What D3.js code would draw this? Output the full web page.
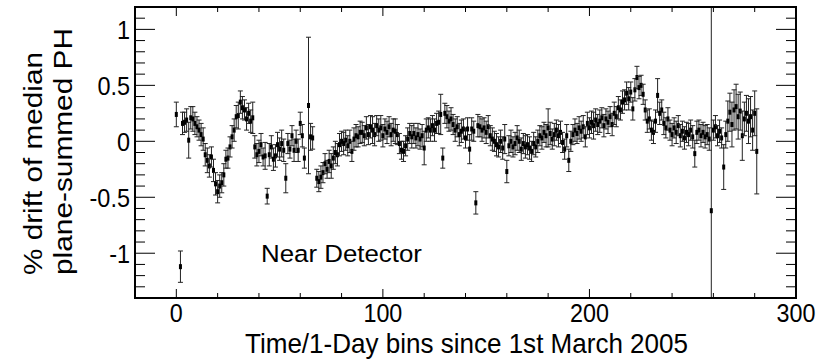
<!DOCTYPE html>
<html>
<head>
<meta charset="utf-8">
<script src="https://cdn.jsdelivr.net/npm/d3@7"></script>
<style>
html,body{margin:0;padding:0;background:#fff;}
svg{display:block;}
text{font-family:"Liberation Sans",Arial,Helvetica,sans-serif;fill:#000;}
</style>
</head>
<body>
<svg id="chart" width="829" height="361"></svg>
<script>
// ---- data (day index, % drift, error) ----
const days = [
0,2,3,4,5,6,7,8,9,10,11,12,13,14,15,16,17,18,19,20,21,22,23,24,25,26,27,28,29,30,
31,32,33,34,35,36,37,38,39,40,41,42,43,44,45,46,47,48,49,50,51,52,53,54,55,56,57,58,59,60,
61,62,64,65,66,68,69,70,71,72,73,74,75,76,77,78,79,80,81,82,83,84,85,86,87,88,89,90,
91,92,93,94,95,96,97,98,99,100,101,102,103,104,105,106,107,108,109,110,111,112,113,114,115,116,117,118,119,120,
121,122,123,124,125,126,127,128,129,130,131,132,133,134,135,136,137,138,139,140,141,142,143,144,145,146,147,148,149,150,
151,152,153,154,155,156,157,158,159,160,161,162,163,164,165,166,167,168,169,170,171,172,173,174,175,176,177,178,179,180,
181,182,183,184,185,186,187,188,189,190,191,192,193,194,195,196,197,198,199,200,201,202,203,204,205,206,207,208,209,210,
211,212,213,214,215,216,217,218,219,220,221,222,223,224,225,226,227,228,229,230,231,232,233,234,235,236,237,238,239,240,
241,242,243,244,245,246,247,248,249,250,251,252,253,254,255,256,257,258,259,260,261,262,263,264,265,266,267,268,269,270,
271,272,273,274,275,276,277,278,279,280,281
];
const drift = [
0.24,-1.12,0.16,0.17,0.19,0.01,0.21,0.20,0.16,0.13,0.10,0.06,0.02,-0.12,-0.17,-0.22,-0.14,-0.26,-0.38,-0.45,-0.40,-0.37,-0.30,-0.16,-0.15,-0.05,0.04,0.10,0.22,0.23,
0.35,0.30,0.28,0.20,0.25,0.18,0.21,-0.05,-0.12,-0.09,-0.03,-0.14,-0.13,-0.49,-0.12,-0.05,-0.16,-0.13,-0.03,-0.07,-0.02,-0.08,-0.33,-0.02,-0.07,0.05,-0.08,0.00,-0.08,0.16,
0.05,-0.15,0.32,0.04,0.03,-0.33,-0.36,-0.32,-0.28,-0.20,-0.25,-0.18,-0.22,-0.15,-0.10,-0.12,-0.03,0.00,-0.02,0.01,-0.04,0.00,-0.09,0.02,0.05,0.04,0.08,0.08,
0.05,0.12,0.06,0.13,0.10,0.06,0.14,0.10,0.12,0.05,0.11,0.08,0.13,0.06,0.10,0.09,0.06,-0.02,-0.08,-0.09,-0.04,0.02,0.07,0.04,0.07,0.03,0.06,0.02,0.05,-0.06,
0.10,0.12,0.10,0.14,0.10,0.16,0.17,0.24,-0.15,0.25,0.22,0.18,0.20,0.15,0.10,0.13,0.06,0.09,0.11,0.03,0.11,-0.07,0.11,0.09,-0.55,0.14,0.13,0.10,0.12,0.08,
0.13,0.05,0.02,0.00,-0.03,-0.05,0.00,-0.06,0.02,-0.27,-0.04,0.00,-0.05,-0.02,0.03,0.00,-0.07,-0.02,-0.05,-0.03,-0.06,-0.09,-0.02,-0.05,0.00,0.05,0.03,0.08,0.05,0.12,
0.07,0.02,0.06,0.10,0.05,0.08,-0.01,-0.07,0.05,-0.17,0.00,0.06,0.10,0.07,0.12,0.09,0.13,0.04,0.16,0.12,0.17,0.14,0.19,0.15,0.18,0.21,0.14,0.20,0.17,0.22,
0.15,0.25,0.22,0.30,0.28,0.35,0.37,0.43,0.38,0.44,0.29,0.46,0.57,0.48,0.50,0.42,0.28,0.18,0.20,0.10,0.08,0.18,0.41,0.25,0.28,0.16,0.12,0.20,0.10,0.06,
0.12,0.08,0.14,0.05,0.09,0.03,0.08,0.06,0.10,0.04,-0.11,0.08,0.10,0.05,0.08,0.04,0.06,0.02,-0.62,0.10,0.13,0.05,0.09,0.03,-0.23,0.06,0.18,0.26,0.15,0.28,
0.31,0.22,0.27,0.05,0.20,0.25,0.18,0.22,0.10,0.25,-0.09
];
const errs = [
0.11,0.14,0.10,0.09,0.10,0.16,0.10,0.11,0.10,0.09,0.09,0.10,0.10,0.10,0.11,0.10,0.09,0.10,0.10,0.10,0.10,0.09,0.10,0.08,0.09,0.09,0.10,0.10,0.10,0.12,
0.10,0.10,0.09,0.10,0.09,0.10,0.14,0.10,0.10,0.10,0.10,0.08,0.12,0.07,0.10,0.10,0.10,0.10,0.11,0.10,0.12,0.10,0.13,0.09,0.08,0.09,0.10,0.10,0.10,0.10,
0.10,0.09,0.61,0.12,0.10,0.08,0.09,0.10,0.09,0.09,0.08,0.10,0.11,0.10,0.10,0.10,0.10,0.09,0.10,0.09,0.09,0.10,0.09,0.10,0.10,0.09,0.10,0.09,
0.09,0.10,0.09,0.10,0.12,0.10,0.09,0.10,0.11,0.10,0.09,0.10,0.09,0.10,0.10,0.11,0.09,0.09,0.08,0.09,0.09,0.10,0.09,0.10,0.09,0.09,0.10,0.09,0.10,0.15,
0.10,0.09,0.10,0.09,0.10,0.09,0.10,0.18,0.09,0.09,0.10,0.09,0.10,0.09,0.10,0.09,0.10,0.10,0.09,0.09,0.10,0.13,0.10,0.09,0.10,0.10,0.09,0.10,0.09,0.10,
0.10,0.09,0.10,0.09,0.10,0.09,0.10,0.10,0.13,0.10,0.09,0.10,0.09,0.10,0.11,0.10,0.10,0.09,0.10,0.09,0.10,0.09,0.10,0.09,0.10,0.09,0.10,0.09,0.10,0.17,
0.10,0.09,0.10,0.09,0.10,0.10,0.09,0.09,0.10,0.10,0.09,0.09,0.10,0.09,0.10,0.09,0.10,0.09,0.10,0.09,0.10,0.12,0.10,0.09,0.10,0.09,0.10,0.09,0.10,0.09,
0.10,0.10,0.09,0.10,0.09,0.10,0.09,0.10,0.10,0.09,0.10,0.10,0.10,0.10,0.09,0.09,0.09,0.10,0.09,0.09,0.10,0.10,0.15,0.10,0.09,0.10,0.09,0.10,0.09,0.10,
0.09,0.10,0.09,0.10,0.09,0.10,0.09,0.10,0.09,0.10,0.12,0.10,0.09,0.10,0.09,0.10,0.09,0.10,2.00,0.09,0.10,0.09,0.10,0.09,0.20,0.12,0.18,0.17,0.20,0.18,
0.20,0.20,0.17,0.22,0.15,0.16,0.20,0.18,0.18,0.20,0.38
];
const xMajorTicks = [0, 100, 200, 300];
const yMajorTicks = [-1, -0.5, 0, 0.5, 1];
const yTickLabels = ["-1", "-0.5", "0", "0.5", "1"];
const xTitle = "Time/1-Day bins since 1st March 2005";
const yTitle = ["% drift of median", "plane-summed PH"];
const labelText = "Near Detector";

// ---- layout ----
const svg = d3.select("#chart");
const L = 135, R = 796, T = 7, B = 298;
const x = d3.scaleLinear().domain([-20, 300]).range([L, R]);
const y = d3.scaleLinear().domain([-1.4, 1.2]).range([B, T]);

svg.append("defs").append("clipPath").attr("id", "clip")
  .append("rect").attr("x", L).attr("y", T).attr("width", R - L).attr("height", B - T);

const data = days.map((d, i) => ({d, v: drift[i], e: errs[i]}));

// error bars
const g = svg.append("g").attr("clip-path", "url(#clip)");
const bars = g.selectAll("g.pt").data(data).join("g").attr("class", "pt");
bars.append("line")
  .attr("x1", p => x(p.d)).attr("x2", p => x(p.d))
  .attr("y1", p => y(p.v - p.e)).attr("y2", p => y(p.v + p.e))
  .attr("stroke", "#222").attr("stroke-width", 1);
[-1, 1].forEach(s => {
  bars.append("line")
    .attr("x1", p => x(p.d) - 2.5).attr("x2", p => x(p.d) + 2.5)
    .attr("y1", p => y(p.v + s * p.e)).attr("y2", p => y(p.v + s * p.e))
    .attr("stroke", "#222").attr("stroke-width", 1);
});
bars.append("rect")
  .attr("x", p => x(p.d) - 1.5).attr("y", p => y(p.v) - 2.5)
  .attr("width", 3).attr("height", 5).attr("fill", "#000");

// ticks
const ax = svg.append("g").attr("stroke", "#000").attr("stroke-width", 1);
const xMinor = d3.range(-20, 301, 20);
xMinor.forEach(t => {
  const major = xMajorTicks.includes(t);
  const len = major ? 9 : 5;
  ax.append("line").attr("x1", x(t)).attr("x2", x(t)).attr("y1", B).attr("y2", B - len);
  ax.append("line").attr("x1", x(t)).attr("x2", x(t)).attr("y1", T).attr("y2", T + len);
});
const yMinor = d3.range(-14, 13).map(k => k / 10);
yMinor.forEach(t => {
  const major = yMajorTicks.some(m => Math.abs(m - t) < 1e-9);
  const len = major ? 20 : 10;
  ax.append("line").attr("x1", L).attr("x2", L + len).attr("y1", y(t)).attr("y2", y(t));
  ax.append("line").attr("x1", R).attr("x2", R - len).attr("y1", y(t)).attr("y2", y(t));
});

// frame
svg.append("rect").attr("x", L).attr("y", T).attr("width", R - L).attr("height", B - T)
  .attr("fill", "none").attr("stroke", "#000").attr("stroke-width", 2);

// condense helper: taller glyphs, slightly narrower like the reference
function condense(sel, f) {
  sel.each(function() {
    const w = this.getComputedTextLength();
    d3.select(this).attr("textLength", w * f).attr("lengthAdjust", "spacingAndGlyphs");
  });
}

// tick labels
const xl = svg.selectAll("text.xl").data(xMajorTicks).join("text").attr("class", "xl")
  .attr("x", d => x(d)).attr("y", 322).attr("text-anchor", "middle")
  .attr("font-size", 26.5).text(d => d);
condense(xl, 0.88);
const yl = svg.selectAll("text.yl").data(yMajorTicks).join("text").attr("class", "yl")
  .attr("x", 130).attr("y", d => y(d) + 10).attr("text-anchor", "end")
  .attr("font-size", 25.5).text((d, i) => yTickLabels[i]);
condense(yl, 0.92);

// titles
svg.append("text").attr("x", 245).attr("y", 353).attr("font-size", 28)
  .attr("textLength", 443).attr("lengthAdjust", "spacingAndGlyphs").text(xTitle);
svg.append("text").attr("transform", "translate(42,275) rotate(-90)").attr("font-size", 26)
  .attr("textLength", 223).attr("lengthAdjust", "spacingAndGlyphs").text(yTitle[0]);
svg.append("text").attr("transform", "translate(72,275) rotate(-90)").attr("font-size", 26)
  .attr("textLength", 247).attr("lengthAdjust", "spacingAndGlyphs").text(yTitle[1]);
svg.append("text").attr("x", 261).attr("y", 262).attr("font-size", 24.5)
  .attr("textLength", 161).attr("lengthAdjust", "spacingAndGlyphs").text(labelText);
</script>
</body>
</html>
